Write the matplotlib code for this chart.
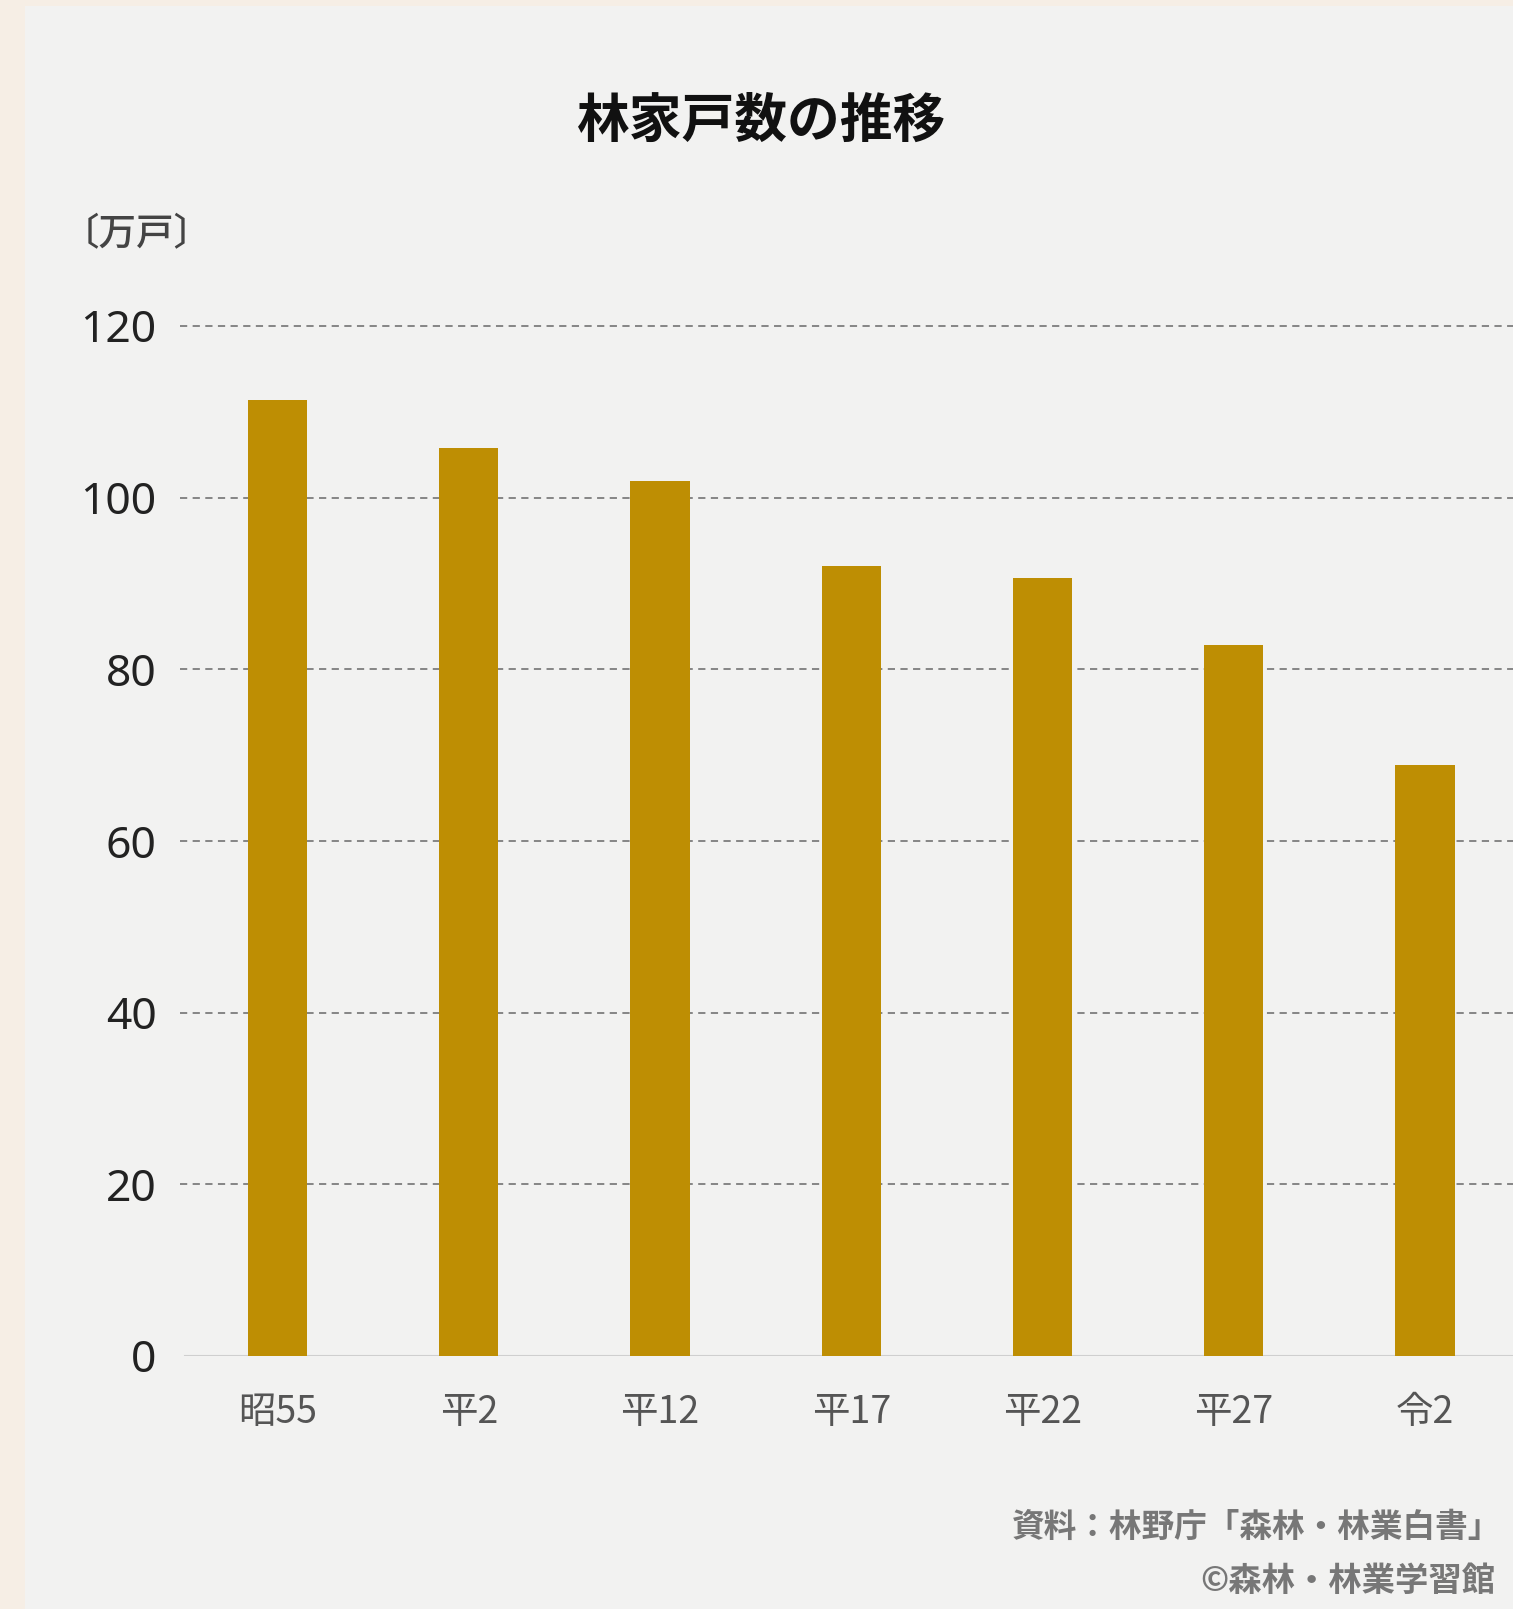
# -*- coding: utf-8 -*-
import matplotlib
matplotlib.use('Agg')
import matplotlib.pyplot as plt
from matplotlib.patches import Rectangle

plt.rcParams['font.family'] = ['Noto Sans CJK JP', 'DejaVu Sans']

years = ['昭55', '平2', '平12', '平17', '平22', '平27', '令2']
households = [111.4, 105.8, 101.9, 92.0, 90.6, 82.8, 68.8]
y_ticks = [0, 20, 40, 60, 80, 100, 120]

bar_color = '#be8e03'
outer_bg = '#f6eee5'
panel_bg = '#f2f2f1'

fig = plt.figure(figsize=(15.13, 16.09), dpi=100)
fig.patch.set_facecolor(outer_bg)
# paper panel
fig.patches.append(Rectangle((25 / 1513, 0), 1 - 25 / 1513, 1 - 6 / 1609,
                             transform=fig.transFigure, facecolor=panel_bg,
                             edgecolor='none', zorder=-10))

ax = fig.add_axes([180 / 1513, 1 - 1356 / 1609, 1 - 180 / 1513, (1356 - 326) / 1609])
ax.set_facecolor('none')
ax.set_zorder(5)

x = list(range(len(years)))
ax.bar(x, households, width=0.31, color=bar_color, zorder=3)

ax.set_xlim(-0.51, 6.46)
ax.set_ylim(0, 120)

for v in y_ticks[1:]:
    ax.axhline(v, color='#7d7d7d', lw=1.3, dashes=(4, 3), zorder=1, clip_on=False)
ax.axhline(0, xmin=0.004, color='#cfcfcf', lw=1.5, zorder=2)

for s in ax.spines.values():
    s.set_visible(False)

ax.set_yticks(y_ticks)
ax.set_yticklabels([str(v) for v in y_ticks], fontsize=32, family='Noto Sans',
                   color='#222222')
ax.set_xticks(x)
ax.set_xticklabels(years, fontsize=27, color='#555555')
ax.tick_params(axis='y', length=0, pad=17)
ax.tick_params(axis='x', length=0, pad=27)

fig.text(762 / 1513, 1 - 121 / 1609, '林家戸数の推移', fontsize=38, fontweight='bold',
         color='#111111', ha='center', va='center')
fig.text(62 / 1513, 1 - 234 / 1609, '〔万戸〕', fontsize=27, fontweight='medium',
         color='#444444', ha='left', va='center')
fig.text(1501 / 1513, 1 - 1527 / 1609, '資料：林野庁「森林・林業白書」', fontsize=23.5,
         fontweight='bold', color='#777777', ha='right', va='center')
fig.text(1495 / 1513, 1 - 1582 / 1609, '©森林・林業学習館', fontsize=24,
         fontweight='bold', color='#777777', ha='right', va='center')

fig.savefig('out.png', dpi=100, facecolor=outer_bg)
